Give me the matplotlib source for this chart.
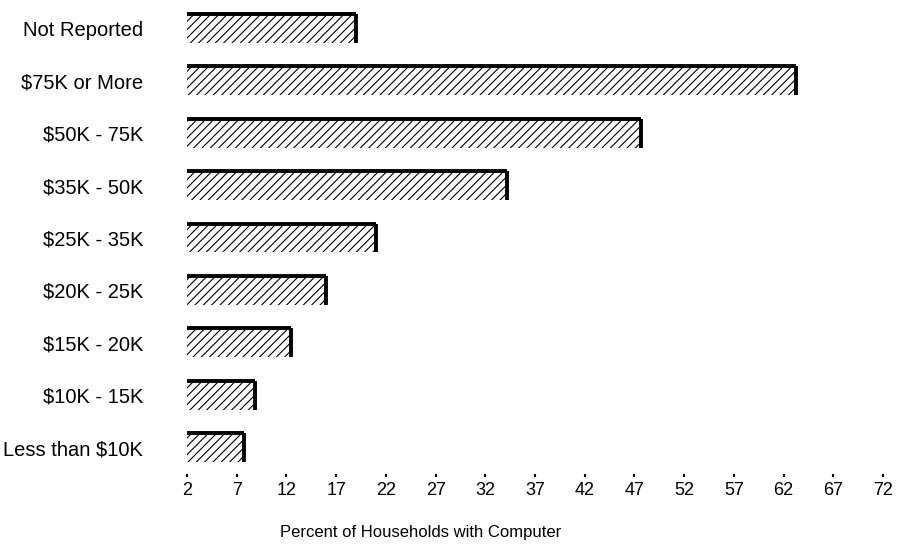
import numpy as np
import matplotlib
matplotlib.use("Agg")
import matplotlib.pyplot as plt

plt.rcParams['font.family'] = ['Liberation Sans', 'DejaVu Sans']
plt.rcParams['hatch.linewidth'] = 0.8

# income groups, bottom to top
income = ['Less than $10K', '$10K - 15K', '$15K - 20K', '$20K - 25K', '$25K - 35K',
          '$35K - 50K', '$50K - 75K', '$75K or More', 'Not Reported']
# percent of households with a computer
pct = [7.7, 8.8, 12.5, 16.0, 21.0, 34.2, 47.7, 63.2, 19.0]

xticks = list(range(2, 73, 5))
base = 2

fig = plt.figure(figsize=(8.97, 5.45), dpi=100)
ax = fig.add_axes([182 / 897, 71 / 545, 711 / 897, 472 / 545])

y = np.arange(len(income))
h = 0.55
widths = np.array(pct) - base

# hatched bar body
ax.barh(y, widths, left=base, height=h, color='white', edgecolor='black',
        linewidth=0, hatch='////')
# heavy top and right edges
ax.hlines(y + h / 2, base, pct, color='black', lw=2.8)
ax.vlines(pct, y - h / 2, y + h / 2, color='black', lw=2.8)

ax.set_xlim(1.5, 73)
ax.set_ylim(-0.5, 8.5)
ax.set_xticks(xticks)
ax.set_xticklabels([str(t) for t in xticks], fontsize=13)
ax.set_yticks(y)
ax.set_yticklabels(income, fontsize=14.5)
ax.tick_params(axis='x', length=2, width=1.5, pad=4)
ax.tick_params(axis='y', length=0, pad=28)
for s in ax.spines.values():
    s.set_visible(False)

fig.text(421 / 897, 13 / 545, 'Percent of Households with Computer',
         ha='center', va='center', fontsize=12)

plt.savefig('out.png', dpi=100)
